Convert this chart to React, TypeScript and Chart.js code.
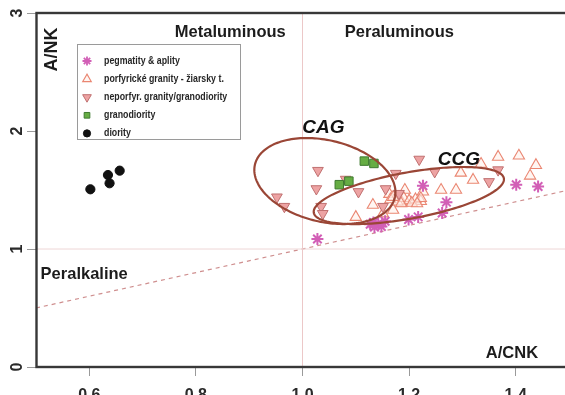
import React, { useEffect, useRef } from 'react';
import { Chart, registerables } from 'chart.js';
import { drawPoint } from 'chart.js/helpers';

Chart.register(...registerables);

// ---------- data ----------
const xTicks = [0.6, 0.8, 1.0, 1.2, 1.4];
const yTicks = [0, 1, 2, 3];

const seriesLabels = [
  'pegmatity & aplity',
  'porfyrické granity - žiarsky t.',
  'neporfyr. granity/granodiority',
  'granodiority',
  'diority',
];

// pegmatity & aplity (asterisks)
const pegmatityX = [1.028, 1.127, 1.135, 1.142, 1.148, 1.133, 1.155, 1.199, 1.217, 1.226, 1.262, 1.27, 1.401, 1.442];
const pegmatityY = [1.085, 1.21, 1.185, 1.215, 1.19, 1.225, 1.235, 1.25, 1.272, 1.537, 1.305, 1.397, 1.545, 1.53];

// porfyrické granity (open up-triangles)
const porfyrX = [1.367, 1.406, 1.438, 1.427, 1.335, 1.297, 1.32, 1.288, 1.26, 1.226, 1.192, 1.132, 1.10, 1.187, 1.222, 1.151, 1.163, 1.17,
  1.165, 1.178, 1.19, 1.20, 1.212, 1.222, 1.185, 1.205, 1.17, 1.215];
const porfyrY = [1.78, 1.79, 1.71, 1.62, 1.72, 1.645, 1.585, 1.50, 1.50, 1.485, 1.50, 1.373, 1.27, 1.39, 1.405, 1.30, 1.465, 1.33,
  1.42, 1.40, 1.43, 1.41, 1.42, 1.43, 1.385, 1.39, 1.44, 1.385];

// neporfyr. granity/granodiority (filled down-triangles)
const neporfyrX = [0.952, 0.966, 1.029, 1.026, 1.035, 1.038, 1.081, 1.105, 1.151, 1.156, 1.175, 1.181, 1.219, 1.248, 1.35, 1.367];
const neporfyrY = [1.44, 1.36, 1.665, 1.51, 1.36, 1.30, 1.59, 1.485, 1.36, 1.51, 1.64, 1.47, 1.76, 1.655, 1.57, 1.67];

// granodiority (squares)
const granodioX = [1.116, 1.134, 1.069, 1.087];
const granodioY = [1.745, 1.725, 1.545, 1.575];

// diority (dots)
const diorityX = [0.602, 0.635, 0.638, 0.657];
const diorityY = [1.506, 1.627, 1.557, 1.664];

// reference lines
const diagLineX = [0.5, 1.5];
const diagLineY = [0.5, 1.5];
const vertLineX = [1.0, 1.0];
const vertLineY = [0, 3];
const horizLineX = [0.5, 1.5];
const horizLineY = [1.0, 1.0];

// ellipses (centre and two conjugate semi-axis vectors, data units)
const cagCenter = [1.042, 1.576];
const cagAxisU = [0.1312, -0.14];
const cagAxisV = [-0.0176, -0.3365];
const ccgCenter = [1.1995, 1.453];
const ccgAxisU = [0.1783, 0.1462];
const ccgAxisV = [0.0078, -0.1926];

// text annotations (data coordinates)
const noteTexts = ['Metaluminous', 'Peraluminous', 'Peralkaline', 'A/CNK', 'A/NK', 'CAG', 'CCG'];
const noteX = [0.8645, 1.1817, 0.5904, 1.393, 0.5306, 1.0392, 1.2934];
const noteY = [2.836, 2.839, 0.783, 0.119, 2.69, 2.025, 1.76];

// ---------- helpers ----------
const FONT = '"Liberation Sans", Arial, Helvetica, sans-serif';
const zip = (xs: number[], ys: number[]) => xs.map((x, i) => ({ x, y: ys[i] }));

const pointStyles = [
  { pointStyle: 'star', rotation: 0, radius: 6, borderWidth: 2, fill: '#d25fb6', stroke: '#d25fb6', lr: 4.5 },
  { pointStyle: 'triangle', rotation: 0, radius: 6.5, borderWidth: 1.1, fill: 'rgba(255,240,234,0.6)', stroke: '#ea8672', lr: 5 },
  { pointStyle: 'triangle', rotation: 180, radius: 6.2, borderWidth: 1, fill: '#eda3a3', stroke: '#c07070', lr: 5 },
  { pointStyle: 'rect', rotation: 0, radius: 6, borderWidth: 1, fill: '#66ad44', stroke: '#3e7a30', lr: 4 },
  { pointStyle: 'circle', rotation: 0, radius: 4.6, borderWidth: 1, fill: '#111111', stroke: '#111111', lr: 3.6 },
];

const overlayPlugin = {
  id: 'overlay',
  afterDatasetsDraw(chart: any) {
    const { ctx, chartArea: a, scales } = chart;
    const xs = scales.x, ys = scales.y;
    ctx.save();
    ctx.beginPath();
    ctx.rect(a.left, a.top, a.right - a.left, a.bottom - a.top);
    ctx.clip();
    ctx.strokeStyle = '#9a4636';
    ctx.lineWidth = 2.2;
    const ellipses = [
      { c: cagCenter, u: cagAxisU, v: cagAxisV },
      { c: ccgCenter, u: ccgAxisU, v: ccgAxisV },
    ];
    for (const e of ellipses) {
      ctx.beginPath();
      const n = 180;
      for (let i = 0; i <= n; i++) {
        const t = (i / n) * Math.PI * 2;
        const dx = e.c[0] + e.u[0] * Math.cos(t) + e.v[0] * Math.sin(t);
        const dy = e.c[1] + e.u[1] * Math.cos(t) + e.v[1] * Math.sin(t);
        const px = xs.getPixelForValue(dx);
        const py = ys.getPixelForValue(dy);
        if (i === 0) ctx.moveTo(px, py);
        else ctx.lineTo(px, py);
      }
      ctx.closePath();
      ctx.stroke();
    }
    ctx.restore();
  },
  afterDraw(chart: any) {
    const { ctx, chartArea: a, scales } = chart;
    const xs = scales.x, ys = scales.y;
    ctx.save();
    // frame
    ctx.strokeStyle = '#383838';
    ctx.lineWidth = 2.4;
    ctx.strokeRect(a.left + 0.5, a.top, a.right - a.left, a.bottom - a.top);

    // y tick labels (rotated)
    ctx.fillStyle = '#2a2a2a';
    ctx.font = `bold 16px ${FONT}`;
    ctx.textAlign = 'center';
    ctx.textBaseline = 'middle';
    for (const v of yTicks) {
      const py = ys.getPixelForValue(v);
      ctx.save();
      ctx.translate(18, py);
      ctx.rotate(-Math.PI / 2);
      ctx.fillText(String(v), 0, 0);
      ctx.restore();
    }

    // annotations
    noteTexts.forEach((txt, i) => {
      const px = xs.getPixelForValue(noteX[i]);
      const py = ys.getPixelForValue(noteY[i]);
      ctx.save();
      ctx.fillStyle = '#1c1c1c';
      ctx.textAlign = 'center';
      ctx.textBaseline = 'middle';
      if (txt === 'CAG' || txt === 'CCG') {
        ctx.font = `italic bold 19px ${FONT}`;
        ctx.fillStyle = '#111';
      } else if (txt === 'A/NK') {
        ctx.font = `bold 18px ${FONT}`;
      } else {
        ctx.font = `bold 16.5px ${FONT}`;
      }
      ctx.translate(px, py);
      if (txt === 'A/NK') ctx.rotate(-Math.PI / 2);
      ctx.fillText(txt, 0, 0);
      ctx.restore();
    });

    // legend
    const bx = 77.5, by = 44.5, bw = 163, bh = 95;
    ctx.fillStyle = '#ffffff';
    ctx.fillRect(bx, by, bw, bh);
    ctx.strokeStyle = '#9a9a9a';
    ctx.lineWidth = 1;
    ctx.strokeRect(bx, by, bw, bh);
    ctx.font = `bold 10px ${FONT}`;
    ctx.textAlign = 'left';
    ctx.textBaseline = 'middle';
    seriesLabels.forEach((lab, i) => {
      const ry = 61 + i * 18.1;
      const st = pointStyles[i];
      ctx.fillStyle = st.fill;
      ctx.strokeStyle = st.stroke;
      ctx.lineWidth = st.pointStyle === 'star' ? 1.8 : st.borderWidth;
      drawPoint(ctx, { pointStyle: st.pointStyle as any, rotation: st.rotation, radius: st.lr, borderWidth: st.borderWidth }, 87, ry);
      ctx.save();
      ctx.fillStyle = '#262626';
      ctx.translate(104, ry);
      ctx.scale(0.88, 1);
      ctx.fillText(lab, 0, 0);
      ctx.restore();
    });
    ctx.restore();
  },
};

function makeScatter(i: number, xs: number[], ys: number[], order: number) {
  const st = pointStyles[i];
  return {
    type: 'scatter' as const,
    label: seriesLabels[i],
    data: zip(xs, ys),
    pointStyle: st.pointStyle,
    rotation: st.rotation,
    pointRadius: st.radius,
    pointHoverRadius: st.radius,
    pointBorderWidth: st.borderWidth,
    backgroundColor: st.fill,
    borderColor: st.stroke,
    pointBackgroundColor: st.fill,
    pointBorderColor: st.stroke,
    showLine: false,
    order,
  };
}

function makeLine(xs: number[], ys: number[], color: string, dash: number[], width: number) {
  return {
    type: 'line' as const,
    label: '',
    data: zip(xs, ys),
    borderColor: color,
    borderWidth: width,
    borderDash: dash,
    pointRadius: 0,
    showLine: true,
    fill: false,
    order: 10,
  };
}

export default function App() {
  const ref = useRef<HTMLCanvasElement>(null);
  useEffect(() => {
    if (!ref.current) return;
    const chart = new Chart(ref.current, {
      type: 'scatter',
      data: {
        datasets: [
          makeScatter(0, pegmatityX, pegmatityY, 2),
          makeScatter(1, porfyrX, porfyrY, 5),
          makeScatter(2, neporfyrX, neporfyrY, 4),
          makeScatter(3, granodioX, granodioY, 3),
          makeScatter(4, diorityX, diorityY, 1),
          makeLine(vertLineX, vertLineY, '#ecc8c8', [], 1),
          makeLine(horizLineX, horizLineY, '#eed6d6', [], 1),
          makeLine(diagLineX, diagLineY, '#cf8f8f', [4, 4], 1.2),
        ] as any,
      },
      options: {
        animation: false,
        responsive: false,
        devicePixelRatio: 1,
        layout: { padding: { top: 13, right: 11, left: 0, bottom: 0 } },
        plugins: { legend: { display: false }, tooltip: { enabled: false } },
        scales: {
          x: {
            type: 'linear',
            min: 0.5,
            max: 1.5,
            afterBuildTicks: (s: any) => {
              s.ticks = xTicks.map((v) => ({ value: v }));
            },
            afterFit: (s: any) => {
              s.height = 53;
            },
            ticks: {
              autoSkip: false,
              maxRotation: 0,
              minRotation: 0,
              padding: 10,
              color: '#2a2a2a',
              font: { family: FONT, size: 16, weight: 'bold' },
              callback: (v: any) => Number(v).toFixed(1),
            },
            grid: { drawOnChartArea: false, drawTicks: true, tickLength: 9, color: '#9a9a9a', lineWidth: 1 },
            border: { display: false },
          },
          y: {
            type: 'linear',
            min: 0,
            max: 3,
            afterBuildTicks: (s: any) => {
              s.ticks = yTicks.map((v) => ({ value: v }));
            },
            afterFit: (s: any) => {
              s.width = 36;
            },
            ticks: { display: false },
            grid: { drawOnChartArea: false, drawTicks: true, tickLength: 9, color: '#9a9a9a', lineWidth: 1 },
            border: { display: false },
          },
        },
      } as any,
      plugins: [overlayPlugin],
    });
    return () => chart.destroy();
  }, []);
  return (
    <div style={{ position: 'fixed', left: 0, top: 0, width: 565, height: 395, overflow: 'hidden', background: '#fff' }}>
      <canvas ref={ref} width={580} height={420} style={{ display: 'block', width: 580, height: 420 }} />
    </div>
  );
}
